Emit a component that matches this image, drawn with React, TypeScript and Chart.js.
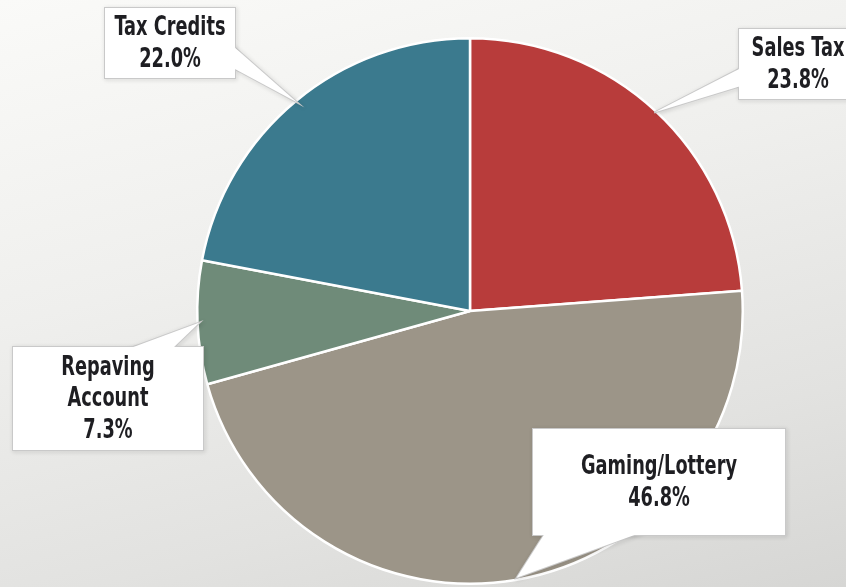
import React, { useEffect, useRef } from "react";
import { Chart, registerables } from "chart.js";

Chart.register(...registerables);

const categories = ["Sales Tax", "Gaming/Lottery", "Repaving Account", "Tax Credits"];
const shares = [23.8, 46.8, 7.3, 22.0];
const labelLines = [["Sales Tax"], ["Gaming/Lottery"], ["Repaving", "Account"], ["Tax Credits"]];
const sliceColors = ["#b83c3b", "#9c9588", "#6f8b79", "#3b7a8e"];

// callout boxes: [x, y, w, h], and the pointer base on the box edge
const callouts = [
  { box: [739, 29, 118, 70], base: [[741, 68], [741, 86]] },
  { box: [533, 429, 252, 106], base: [[545, 533], [640, 533]] },
  { box: [13, 347, 190, 103], base: [[128, 349], [172, 349]] },
  { box: [105, 8, 130, 70], base: [[233, 46], [233, 68]] },
];

const calloutPlugin = {
  id: "callouts",
  afterDatasetsDraw(chart: any) {
    const ctx = chart.ctx as CanvasRenderingContext2D;
    const meta = chart.getDatasetMeta(0);
    meta.data.forEach((arc: any, i: number) => {
      const { x, y, startAngle, endAngle, outerRadius } = arc.getProps(
        ["x", "y", "startAngle", "endAngle", "outerRadius"],
        true
      );
      const mid = (startAngle + endAngle) / 2;
      const tip = [x + Math.cos(mid) * (outerRadius - 2), y + Math.sin(mid) * (outerRadius - 2)];
      const c = callouts[i];
      const [bx, by, bw, bh] = c.box;
      const [b1, b2] = c.base;
      ctx.save();
      ctx.shadowColor = "rgba(0,0,0,0.18)";
      ctx.shadowBlur = 4;
      ctx.shadowOffsetX = 1;
      ctx.shadowOffsetY = 1;
      ctx.strokeStyle = "#c9c9c9";
      ctx.lineWidth = 2;
      ctx.beginPath();
      ctx.moveTo(b1[0], b1[1]);
      ctx.lineTo(tip[0], tip[1]);
      ctx.lineTo(b2[0], b2[1]);
      ctx.closePath();
      ctx.stroke();
      ctx.strokeRect(bx, by, bw, bh);
      ctx.shadowColor = "transparent";
      ctx.fillStyle = "#ffffff";
      ctx.fillRect(bx, by, bw, bh);
      ctx.beginPath();
      ctx.moveTo(b1[0], b1[1]);
      ctx.lineTo(tip[0], tip[1]);
      ctx.lineTo(b2[0], b2[1]);
      ctx.closePath();
      ctx.fill();
      const lines = [...labelLines[i], shares[i].toFixed(1) + "%"];
      ctx.fillStyle = "#1e1e22";
      ctx.font = "bold 26px 'DejaVu Sans Condensed', 'DejaVu Sans', sans-serif";
      ctx.textAlign = "center";
      ctx.textBaseline = "middle";
      const lh = 31.5;
      const cx = bx + bw / 2;
      const cy = by + bh / 2 + 1;
      const top = cy - ((lines.length - 1) * lh) / 2;
      const sx = 0.76;
      ctx.translate(cx, 0);
      ctx.scale(sx, 1);
      lines.forEach((t, k) => ctx.fillText(t, 0, top + k * lh));
      ctx.restore();
    });
  },
};

export default function App() {
  const ref = useRef<HTMLCanvasElement | null>(null);
  useEffect(() => {
    if (!ref.current) return;
    const chart = new Chart(ref.current, {
      type: "pie",
      data: {
        labels: categories,
        datasets: [
          {
            data: shares,
            backgroundColor: sliceColors,
            borderColor: "#ffffff",
            borderWidth: 2.5,
          },
        ],
      },
      options: {
        responsive: false,
        animation: false,
        layout: { padding: { left: 196, right: 102, top: 37, bottom: 2 } },
        plugins: { legend: { display: false }, tooltip: { enabled: false } },
      },
      plugins: [calloutPlugin],
    });
    return () => chart.destroy();
  }, []);
  return (
    <div
      style={{
        position: "absolute",
        left: 0,
        top: 0,
        width: 846,
        height: 587,
        overflow: "hidden",
        background: "linear-gradient(165deg, #fafaf8 0%, #efefed 40%, #e2e2e0 75%, #d6d6d4 100%)",
      }}
    >
      <canvas ref={ref} width={846} height={587} style={{ width: 846, height: 587, display: "block" }} />
    </div>
  );
}
